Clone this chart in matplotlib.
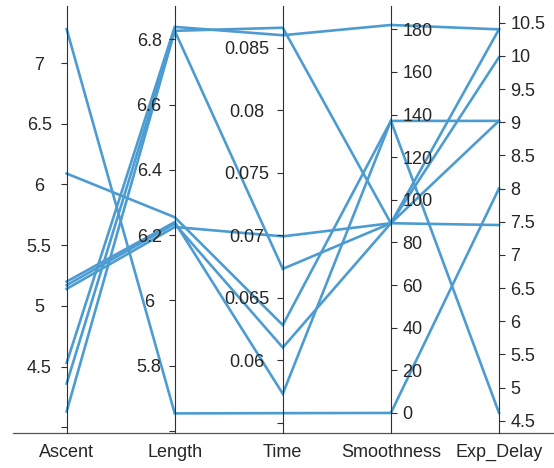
import matplotlib
matplotlib.use('Agg')
import matplotlib.pyplot as plt
import numpy as np

plt.rcParams['font.family'] = ['Liberation Sans', 'DejaVu Sans']

# ---------------- data ----------------
columns = ['Ascent', 'Length', 'Time', 'Smoothness', 'Exp_Delay']
ascent = [7.28, 6.09, 5.20, 5.17, 5.14, 4.53, 4.36, 4.13]
length = [5.654, 6.255, 6.24, 6.235, 6.225, 6.838, 6.826, 6.826]
time_ = [0.05575, 0.0628, 0.0573, 0.0610, 0.0699, 0.0860, 0.0866, 0.0673]
smoothness = [0, 137, 137, 89, 89, 182, 89, 89]
exp_delay = [8.00, 4.62, 9.02, 9.02, 7.45, 10.40, 9.98, 10.40]

ascent_ticks = [4, 4.5, 5, 5.5, 6, 6.5, 7]
ascent_labels = ['', '4.5', '5', '5.5', '6', '6.5', '7']
length_ticks = [5.6, 5.8, 6.0, 6.2, 6.4, 6.6, 6.8]
length_labels = ['', '5.8', '6', '6.2', '6.4', '6.6', '6.8']
time_ticks = [0.055, 0.06, 0.065, 0.07, 0.075, 0.08, 0.085]
time_labels = ['', '0.06', '0.065', '0.07', '0.075', '0.08', '0.085']
smooth_ticks = [0, 20, 40, 60, 80, 100, 120, 140, 160, 180]
smooth_labels = ['0', '20', '40', '60', '80', '100', '120', '140', '160', '180']
delay_ticks = [4.5, 5, 5.5, 6, 6.5, 7, 7.5, 8, 8.5, 9, 9.5, 10, 10.5]
delay_labels = ['4.5', '5', '5.5', '6', '6.5', '7', '7.5', '8', '8.5', '9', '9.5', '10', '10.5']

limits = [(3.953, 7.470), (5.594, 6.902), (0.05416, 0.08834), (-9.4, 190.9), (4.315, 10.752)]

series = [ascent, length, time_, smoothness, exp_delay]
all_ticks = [ascent_ticks, length_ticks, time_ticks, smooth_ticks, delay_ticks]
all_labels = [ascent_labels, length_labels, time_labels, smooth_labels, delay_labels]

# ---------------- figure ----------------
FW, FH = 554, 468
fig = plt.figure(figsize=(FW / 100, FH / 100), dpi=100)
L, R = 12.6 / FW, 553 / FW
B, T = (FH - 433) / FH, (FH - 6) / FH
W, H = R - L, T - B

text_color = '#262626'
line_color = '#4d9cd1'

ax = fig.add_axes([L, B, W, H])
ax.set_xlim(-0.5, 4.5)
ax.set_ylim(0, 1)
for s in ['top', 'left', 'right']:
    ax.spines[s].set_visible(False)
ax.spines['bottom'].set_color('#555555')
ax.spines['bottom'].set_linewidth(0.9)
ax.set_yticks([])
ax.set_xticks(range(len(columns)))
ax.set_xticklabels(columns, fontsize=13, color=text_color)
ax.tick_params(axis='x', length=0, pad=8)

data = np.array(series, dtype=float).T
lo = np.array([l[0] for l in limits])
hi = np.array([l[1] for l in limits])
norm = (data - lo) / (hi - lo)
xs = np.arange(len(columns))
for row in norm:
    ax.plot(xs, row, color=line_color, lw=1.9, solid_joinstyle='miter', clip_on=False)

# vertical axes
left_pads = [15.3, 13.9, 21.2]
for i, col in enumerate(columns):
    xf = L + W * (i + 0.5) / len(columns)
    vax = fig.add_axes([xf, B, 1e-5, H])
    vax.patch.set_visible(False)
    vax.set_xticks([])
    vax.set_ylim(*limits[i])
    vax.set_yticks(all_ticks[i])
    vax.set_yticklabels(all_labels[i], fontsize=13, color=text_color)
    for s in ['top', 'bottom']:
        vax.spines[s].set_visible(False)
    if i < 3:
        vax.spines['right'].set_visible(False)
        vax.spines['left'].set_color('#303030')
        vax.spines['left'].set_linewidth(0.8)
        vax.yaxis.set_ticks_position('left')
        vax.tick_params(axis='y', direction='out', length=4.5, width=0.8,
                        color='#303030', pad=left_pads[i])
        for lbl in vax.get_yticklabels():
            lbl.set_horizontalalignment('center')
    else:
        vax.spines['left'].set_visible(False)
        vax.spines['right'].set_color('#303030')
        vax.spines['right'].set_linewidth(0.8)
        vax.yaxis.tick_right()
        vax.tick_params(axis='y', direction='out', length=4.5, width=0.8,
                        color='#303030', pad=3.7)

fig.savefig('out.png', dpi=100)
